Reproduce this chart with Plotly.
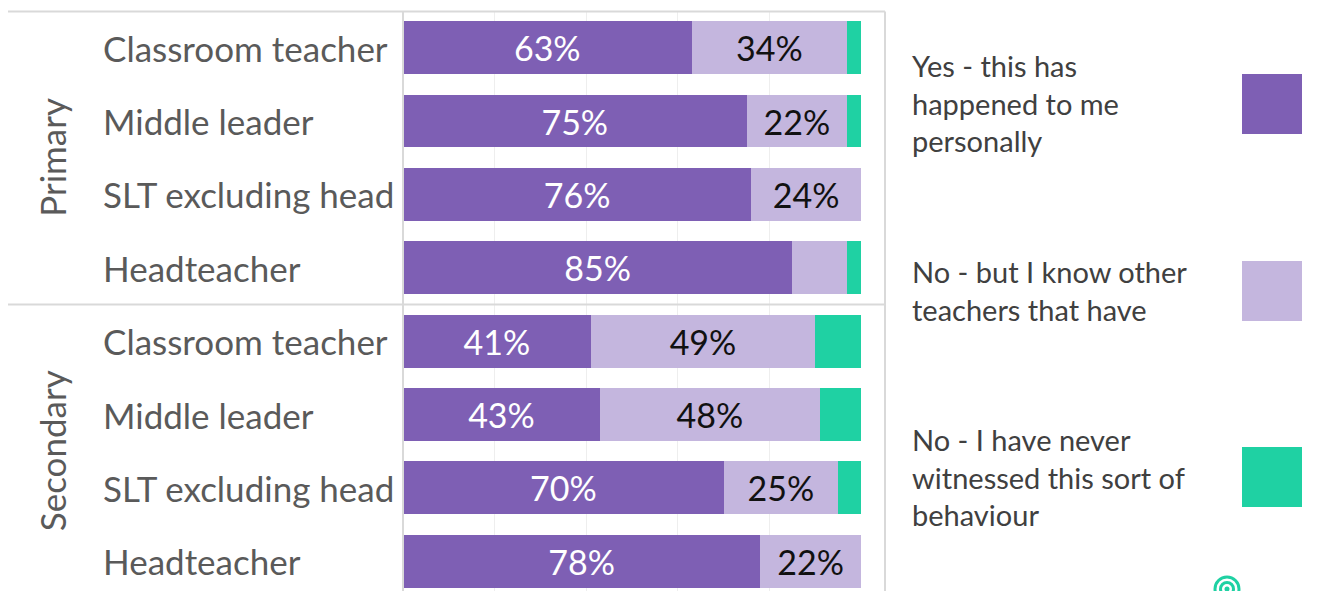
import plotly.graph_objects as go

groups = ["Primary", "Secondary"]
roles = ["Classroom teacher", "Middle leader", "SLT excluding head", "Headteacher"]
series_names = [
    "Yes - this has<br>happened to me<br>personally",
    "No - but I know other<br>teachers that have",
    "No - I have never<br>witnessed this sort of<br>behaviour",
]
yes_personally = [63, 75, 76, 85, 41, 43, 70, 78]
know_others = [34, 22, 24, 12, 49, 48, 25, 22]
never_witnessed = [3, 3, 0, 3, 10, 9, 5, 0]
colors = ["#7E5FB4", "#C4B6DE", "#1FD1A3"]
label_colors = ["white", "#111111", "#111111"]

# page offset (body margin) so coordinates below are in screenshot pixels
OX, OY = 8, 8
SW, SH = 1331, 591
W, H = SW - OX, SH - OY
FONT = "Lato"

row_labels = roles + roles
ypos = list(range(len(row_labels)))
series = [yes_personally, know_others, never_witnessed]

fig = go.Figure()
for name, vals, col, tcol in zip(series_names, series, colors, label_colors):
    fig.add_trace(go.Bar(
        y=ypos, x=vals, orientation="h", name=name,
        marker=dict(color=col, line=dict(width=0)),
        text=[f"{v}%" if v >= 15 else "" for v in vals],
        textposition="inside", insidetextanchor="middle", constraintext="none",
        textfont=dict(family=FONT, size=34, color=tcol),
        showlegend=False,
    ))

# plot area in screenshot pixels
top_px, bot_px = 11, 591
x0_px, x1_px = 403, 861
unit = 73.37
y_lo = -0.5
y_hi = y_lo + (bot_px - top_px) / unit


def px_x(p):
    return (p - OX) / W


def px_y(p):
    return 1 - (p - top_px) / (bot_px - top_px)


annotations = []
for i, lab in enumerate(row_labels):
    annotations.append(dict(
        x=px_x(101), y=i, xref="paper", yref="y", text=lab, showarrow=False,
        xanchor="left", yanchor="middle",
        font=dict(family=FONT, size=35, color="#5A5A5A"),
    ))
for g, (a, b) in zip(groups, [(0, 3), (4, 7)]):
    annotations.append(dict(
        x=px_x(52), y=(a + b) / 2, xref="paper", yref="y", text=g, showarrow=False,
        textangle=-90, xanchor="center", yanchor="middle",
        font=dict(family=FONT, size=35, color="#5A5A5A"),
    ))

# legend (custom)
legend_centers = [103, 290, 477]
for name, col, yc in zip(series_names, colors, legend_centers):
    annotations.append(dict(
        x=px_x(910), y=px_y(yc), xref="paper", yref="paper", text=name,
        showarrow=False, xanchor="left", yanchor="middle", align="left",
        font=dict(family=FONT, size=29, color="#404040"),
    ))

shapes = []
for col, yc in zip(colors, [104, 291, 477]):
    shapes.append(dict(type="rect", xref="paper", yref="paper",
                       x0=px_x(1242), x1=px_x(1302), y0=px_y(yc + 30), y1=px_y(yc - 30),
                       fillcolor=col, line=dict(width=0)))

line_col = "#D9D9D9"
shapes.append(dict(type="line", xref="paper", yref="paper", x0=px_x(7), x1=px_x(885),
                   y0=px_y(11.5), y1=px_y(11.5), line=dict(color=line_col, width=2)))
shapes.append(dict(type="line", xref="paper", yref="y", x0=px_x(7), x1=px_x(885),
                   y0=3.5, y1=3.5, line=dict(color=line_col, width=2)))
shapes.append(dict(type="line", xref="paper", yref="paper", x0=px_x(885), x1=px_x(885),
                   y0=-0.05, y1=px_y(11.5), line=dict(color=line_col, width=2)))
shapes.append(dict(type="line", xref="paper", yref="paper", x0=px_x(403), x1=px_x(403),
                   y0=-0.05, y1=px_y(11.5), line=dict(color=line_col, width=2)))

# small logo mark
cx, cy = 1227, 589
for r, w in [(12, 3), (6.5, 3)]:
    shapes.append(dict(type="circle", xref="paper", yref="paper",
                       x0=px_x(cx - r), x1=px_x(cx + r), y0=px_y(cy + r), y1=px_y(cy - r),
                       line=dict(color="#1FD1A3", width=w)))
shapes.append(dict(type="circle", xref="paper", yref="paper",
                   x0=px_x(cx - 2.5), x1=px_x(cx + 2.5), y0=px_y(cy + 2.5), y1=px_y(cy - 2.5),
                   fillcolor="#1FD1A3", line=dict(width=0)))

fig.update_layout(
    width=W, height=H,
    margin=dict(l=0, r=0, t=top_px - OY, b=0),
    paper_bgcolor="white", plot_bgcolor="white",
    barmode="stack", bargap=0.28,
    xaxis=dict(domain=[(x0_px - OX) / W, (x1_px - OX) / W], range=[0, 100],
               showticklabels=False, showgrid=True, gridcolor="#EEEEEE", gridwidth=1,
               dtick=20, zeroline=False, showline=False, fixedrange=True),
    yaxis=dict(range=[y_hi, y_lo], showticklabels=False, showgrid=False,
               zeroline=False, showline=False, fixedrange=True),
    annotations=annotations, shapes=shapes,
    font=dict(family=FONT),
)

fig.write_html("out.html")
